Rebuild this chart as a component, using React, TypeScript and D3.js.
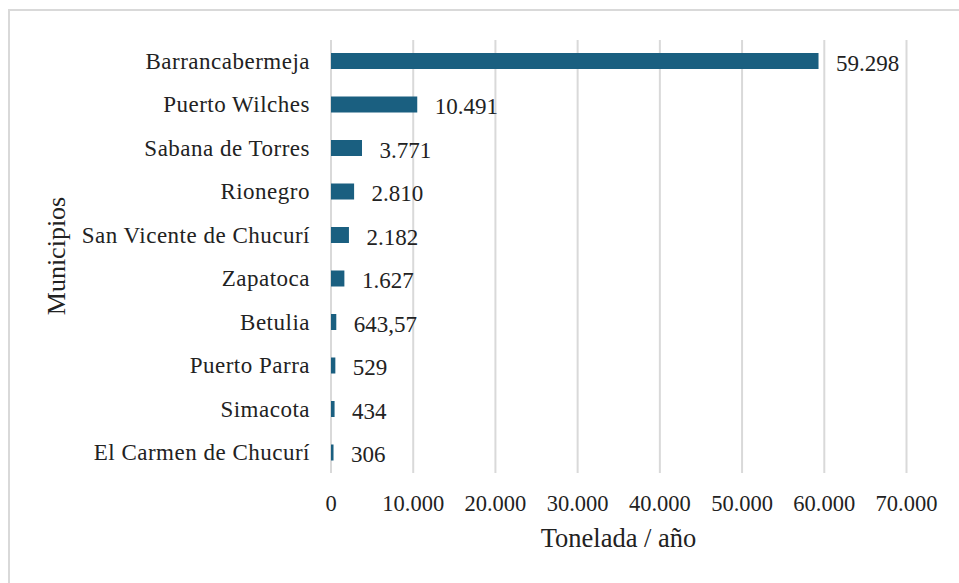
import React from "react";
import * as d3 from "d3";

const categories = [
  "Barrancabermeja",
  "Puerto Wilches",
  "Sabana de Torres",
  "Rionegro",
  "San Vicente de Chucurí",
  "Zapatoca",
  "Betulia",
  "Puerto Parra",
  "Simacota",
  "El Carmen de Chucurí",
];
const values = [59298, 10491, 3771, 2810, 2182, 1627, 643.57, 529, 434, 306];
const valueLabels = ["59.298", "10.491", "3.771", "2.810", "2.182", "1.627", "643,57", "529", "434", "306"];
const ticks = [0, 10000, 20000, 30000, 40000, 50000, 60000, 70000];
const tickLabels = ["0", "10.000", "20.000", "30.000", "40.000", "50.000", "60.000", "70.000"];

const W = 959;
const H = 583;
const FONT = "Liberation Serif, DejaVu Serif, serif";

export default function App() {
  const x = d3.scaleLinear().domain([0, 70000]).range([331, 906.5]);
  const y = d3
    .scaleBand<string>()
    .domain(categories)
    .range([39.25, 474.25])
    .paddingInner(0.63)
    .paddingOuter(0.315);
  const bw = y.bandwidth();
  const ts = (size: number, ls = 0): React.CSSProperties => ({
    fontFamily: FONT,
    fontSize: size + "px",
    letterSpacing: ls + "px",
  });

  return (
    <svg
      width={W}
      height={H}
      style={{ position: "absolute", left: 0, top: 0, background: "#fff" }}
    >
      <rect x={0} y={0} width={W} height={H} fill="#fff" />
      <rect x={9} y={10} width={W + 20} height={H + 20} fill="none" stroke="#d9d9d9" strokeWidth={2} />
      {ticks.map((t) => (
        <line key={t} x1={x(t)} x2={x(t)} y1={40} y2={473} stroke="#d9d9d9" strokeWidth={2} />
      ))}
      {categories.map((c, i) => {
        const yc = (y(c) as number) + bw / 2;
        return (
          <g key={c}>
            <rect x={x(0)} y={yc - 8} width={Math.max(1.5, x(values[i]) - x(0))} height={16} fill="#1a5f80" />
            <text x={310} y={yc + 7.5} textAnchor="end" style={ts(23, 0.5)} fill="#222">
              {c}
            </text>
            <text x={x(values[i]) + 17.5} y={yc + 9.5} style={ts(23)} fill="#222">
              {valueLabels[i]}
            </text>
          </g>
        );
      })}
      {ticks.map((t, i) => (
        <text key={"t" + t} x={x(t)} y={510.5} textAnchor="middle" style={ts(22.5)} fill="#222">
          {tickLabels[i]}
        </text>
      ))}
      <text x={618.5} y={547} textAnchor="middle" style={ts(26.5)} fill="#222">
        Tonelada / año
      </text>
      <text transform="translate(65,256) rotate(-90)" textAnchor="middle" style={ts(26)} fill="#222">
        Municipios
      </text>
    </svg>
  );
}
